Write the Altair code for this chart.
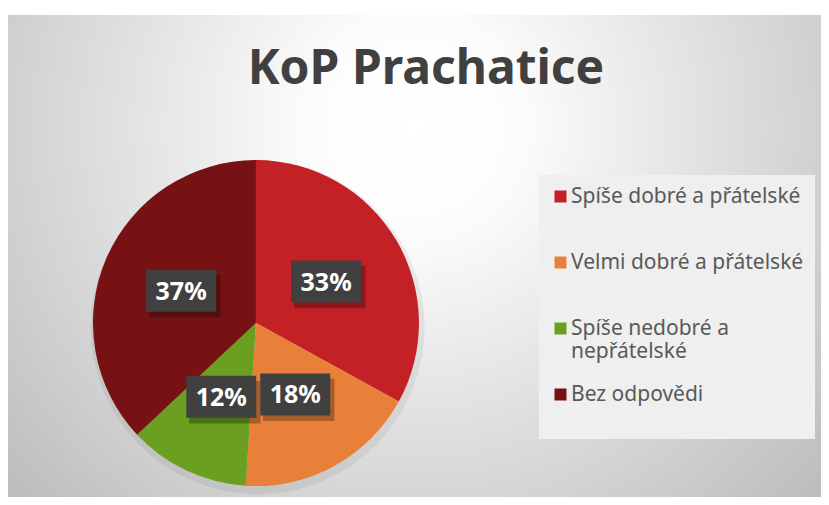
import altair as alt
import pandas as pd

title_text = "KoP Prachatice"
categories = ["Spíše dobré a přátelské", "Velmi dobré a přátelské",
              "Spíše nedobré a nepřátelské", "Bez odpovědi"]
values = [33, 18, 12, 37]
colors = ["#C42126", "#E8803A", "#6A9F20", "#771214"]
order = [0, 1, 2, 3]

df = pd.DataFrame({"cat": categories, "value": values, "order": order})

xs = alt.Scale(domain=[-1.521, 3.466], nice=False, zero=False)
ys = alt.Scale(domain=[-1.067, 1.890], nice=False, zero=False)

bg_fill = {
    "gradient": "radial",
    "x1": 0.5, "y1": 0.34, "r1": 0,
    "x2": 0.5, "y2": 0.34, "r2": 0.72,
    "stops": [
        {"offset": 0.0, "color": "#FFFFFF"},
        {"offset": 0.18, "color": "#FCFCFC"},
        {"offset": 1.0, "color": "#B7B7B7"},
    ],
}
bg = alt.Chart(pd.DataFrame({"a": [0]})).mark_rect(fill=bg_fill).encode(
    opacity=alt.value(1)
)

title = alt.Chart(pd.DataFrame({"t": [title_text]})).mark_text(
    font="Noto Sans", fontSize=48, fontWeight="bold", color="#404040",
    align="center", baseline="alphabetic",
).encode(x=alt.value(418), y=alt.value(69), text="t:N")

legend = alt.Legend(
    title=None, orient="none", legendX=531, legendY=160,
    fillColor="#EFEFEF", padding=11,
    symbolType="square", symbolSize=144, symbolStrokeWidth=0,
    labelFont="Noto Sans", labelFontSize=21, labelColor="#595959",
    labelLimit=400, rowPadding=21, labelOffset=0,
    labelExpr="datum.label == 'Spíše nedobré a nepřátelské' ? ['Spíše nedobré a', 'nepřátelské'] : [datum.label, '']",
)

pie_shadow = alt.Chart(pd.DataFrame({"a": [0]})).mark_arc(
    theta=0, theta2=6.2832, outerRadius=167, color="#000000", opacity=0.06,
).encode(
    x=alt.X(datum=0.01, type="quantitative", scale=xs, axis=None),
    y=alt.Y(datum=-0.025, type="quantitative", scale=ys, axis=None),
)

pie = alt.Chart(df).mark_arc(outerRadius=163).encode(
    x=alt.X(datum=0, type="quantitative", scale=xs, axis=None),
    y=alt.Y(datum=0, type="quantitative", scale=ys, axis=None),
    theta=alt.Theta("value:Q", stack=True),
    color=alt.Color("cat:N", scale=alt.Scale(domain=categories, range=colors), legend=legend),
    order=alt.Order("order:Q"),
)

base = alt.Chart(df).transform_window(
    cum="sum(value)", sort=[alt.SortField("order")], frame=[None, 0]
).transform_joinaggregate(total="sum(value)").transform_calculate(
    ang="2*PI*(datum.cum - datum.value/2)/datum.total",
    lx="0.5*sin(datum.ang)",
    ly="0.5*cos(datum.ang)",
    label="datum.value + '%'",
)
enc = dict(
    x=alt.X("lx:Q", scale=xs, axis=None),
    y=alt.Y("ly:Q", scale=ys, axis=None),
)

shadow = base.mark_point(
    shape="M-0.92,-0.45H1.12V0.76H-0.92Z", size=4900, filled=True,
    color="#000000", opacity=0.28, strokeWidth=0,
).encode(**enc)

box = base.mark_point(
    shape="M-1,-0.6H1V0.6H-1Z", size=4900, filled=True,
    color="#404040", opacity=1, strokeWidth=0,
).encode(**enc)

txt = base.mark_text(
    font="Noto Sans", fontSize=25, fontWeight="bold", color="white",
    align="center", baseline="middle", dy=1,
).encode(text="label:N", **enc)

chart = alt.layer(bg, title, pie_shadow, pie, shadow, box, txt).properties(
    width=813, height=489,
    autosize=alt.AutoSizeParams(type="fit", contains="padding"),
    padding={"left": 0, "right": 0, "top": 7, "bottom": 0},
    background="white",
).configure_view(stroke=None)

chart.save("out.html", embed_options={"renderer": "svg", "actions": False})
